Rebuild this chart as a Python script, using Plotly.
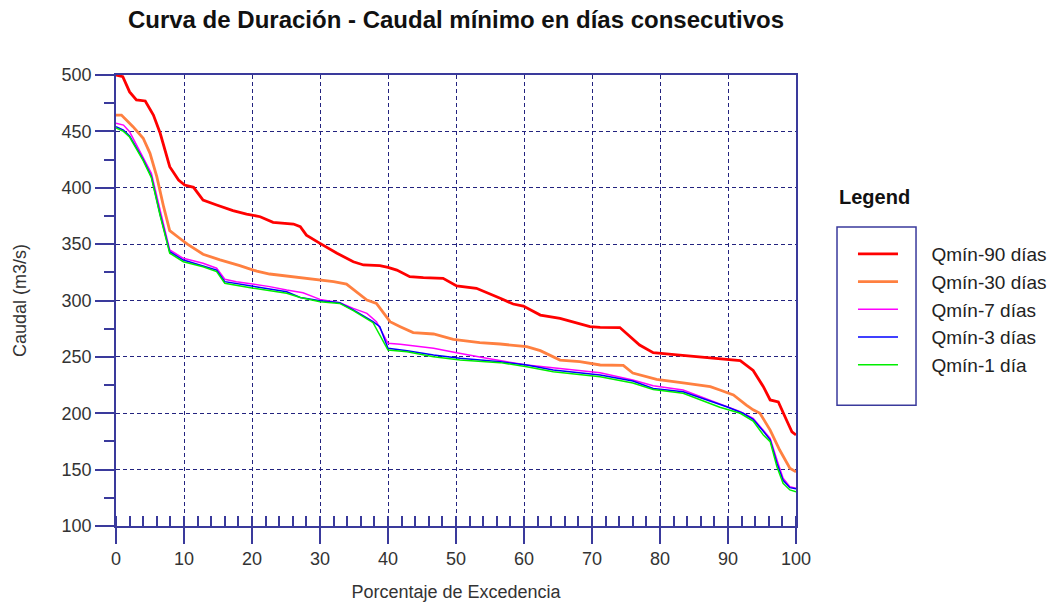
import plotly.graph_objects as go

# ---- data ----
x_q90 = [0, 1, 2, 3, 4.3, 5.5, 6.5, 7.9, 9.2, 10.1, 11.4, 12.8, 14.8, 17.2, 19.2, 21.2, 23.1, 26.1, 27.1, 28,
         30, 32.5, 34.9, 36.4, 38.8, 40, 41.3, 43.2, 45.2, 48.1, 50.1, 53, 56.5, 58.4, 59.9, 62.4, 65.3, 67.7,
         69.7, 71.2, 74.1, 77, 79, 82.5, 87.4, 91.8, 93.7, 95.2, 96.2, 97.4, 98.6, 99.4, 100]
q90 = [500, 498.5, 485, 478, 477, 464.5, 448.3, 418.7, 406.9, 402.4, 400.4, 389, 384.7, 379.7, 376.7, 374.3,
       369.3, 367.8, 365.5, 358, 350.7, 341.9, 334.4, 331.5, 330.9, 329.4, 327, 321.1, 320.2, 319.6, 312.9,
       310.8, 302, 296.9, 295.1, 287.1, 284.2, 279.8, 276.8, 276.2, 276, 260.5, 253.7, 251.7, 249, 246.6, 238,
       223.6, 211.8, 210, 194, 183.6, 180.7]

x_q30 = [0, 0.8, 2.5, 4, 5, 6, 7, 7.9, 9.4, 10.5, 12.8, 15.3, 18.2, 20.7, 22.6, 26.6, 29.5, 32, 33.9, 35.4,
         36.9, 38.3, 40.3, 41.8, 43.7, 46.7, 49.6, 53.5, 56.5, 60.4, 62.4, 65.3, 68.2, 71.2, 74.6, 76, 79.5,
         83.4, 87.4, 88.8, 90.8, 92.7, 93.7, 94.7, 96.2, 97.6, 99.1, 100]
q30 = [464.5, 464.5, 454.2, 443.9, 430.5, 409.8, 383.2, 362, 355, 350, 341, 336, 331, 326, 323.5, 320.6, 318.2,
       316.7, 314.6, 307.8, 300.4, 297.5, 281.2, 276.8, 271.5, 270.3, 265.6, 262.6, 261.4, 259, 255.5, 247.2,
       245.7, 242.8, 242.5, 235.7, 230, 227, 223.6, 220.6, 216.2, 207.3, 203, 200, 185.1, 167.4, 151.2, 148]

x_q7 = [0, 1.1, 2, 4, 5.2, 6.5, 7.9, 9.9, 12.8, 14.8, 16, 17.7, 20.2, 22.6, 25.1, 27.5, 30, 32.9, 34.9, 36.9,
        38.3, 40, 41.8, 46.7, 50.1, 54.5, 60.4, 65.3, 71.2, 76, 79, 83.4, 88.8, 91.8, 93.7, 95.2, 96.2, 97.2,
        98.1, 99.1, 100]
q7 = [457.2, 455.6, 449.7, 427.5, 412.8, 380, 344.8, 337.4, 333, 328.6, 318.8, 316.7, 314.6, 312.3, 309.3,
      306.9, 301, 298, 293, 288.6, 281.2, 262, 261.1, 257.6, 253.7, 248.7, 242.8, 239.9, 236, 229.5, 224.4,
      220.6, 208.2, 201.4, 195.5, 185.1, 177.7, 158.5, 142.3, 134.9, 133.4]

x_q3 = [0, 1.1, 2, 4, 5.2, 6.5, 7.9, 9.9, 12.8, 14.8, 16, 20.2, 25.1, 27.1, 30, 32.9, 34.9, 37.8, 38.8, 40,
        42.8, 46.7, 50.6, 56.5, 60.4, 64.3, 71.2, 76, 79, 83.4, 89.8, 92.2, 93.7, 95.2, 96.2, 97.2, 98.1,
        99.1, 100]
q3 = [454.2, 451.2, 446, 425, 410, 376, 343.3, 335.9, 330.6, 327, 316.7, 312.3, 307.8, 302.7, 299.8, 298,
      291.6, 281.2, 276.8, 257.6, 255.5, 251.7, 248.7, 245.7, 242.8, 238.4, 234, 228.6, 222, 219, 205.8, 200,
      194.5, 184, 176.5, 155.6, 140.5, 134, 133]

x_q1 = [0, 1.1, 2, 4, 5.2, 6.5, 7.9, 9.9, 12.8, 14.8, 16, 20.2, 25.1, 27.1, 30, 32.9, 34.9, 37.8, 40, 42.8,
        46.7, 50.6, 56.5, 60.4, 64.3, 71.2, 76, 79, 83.4, 88.8, 91.8, 93.7, 95.2, 96.2, 97.2, 98.1, 99.1, 100]
q1 = [453, 450, 445, 424, 409, 375, 342, 334.4, 330, 325.6, 315.3, 310.9, 306.5, 302.7, 298.9, 297.4, 291,
      280.3, 256.1, 254.6, 250.2, 247.3, 244.9, 241.3, 236.9, 232.4, 226.8, 221, 217.7, 205.3, 200, 193,
      180.7, 174.8, 152.6, 137.9, 132, 130.4]

series_names = ["Qmín-90 días", "Qmín-30 días", "Qmín-7 días", "Qmín-3 días", "Qmín-1 día"]
series_x = [x_q90, x_q30, x_q7, x_q3, x_q1]
series_y = [q90, q30, q7, q3, q1]
series_colors = ["#ff0000", "#ff8040", "#ff00ff", "#0000ff", "#00ee00"]
series_widths = [2.8, 2.8, 1.5, 1.5, 1.5]

title_text = "Curva de Duración - Caudal mínimo en días consecutivos"
x_title = "Porcentaje de Excedencia"
y_title = "Caudal (m3/s)"
legend_heading = "Legend"

AX = "#3a3a9c"
GRID = "#23237f"
FONT = "Liberation Sans, Arial, sans-serif"
PAD = "\u2002\u2002\u2002"  # visual gap between legend line and label

fig = go.Figure()
for nm, xs, ys, c, w in zip(series_names, series_x, series_y, series_colors, series_widths):
    fig.add_trace(go.Scatter(x=xs, y=ys, mode="lines", name=PAD + nm,
                             line=dict(color=c, width=w)))

fig.update_layout(
    width=1052, height=602, autosize=False,
    paper_bgcolor="white", plot_bgcolor="white",
    margin=dict(l=116, r=256, t=75, b=76, autoexpand=False),
    font=dict(family=FONT, size=18, color="#333333"),
    title=dict(text="<b>" + title_text + "</b>", x=0.5, xref="paper", y=0.967, yref="container",
               yanchor="middle", font=dict(size=24, color="#111111")),
    showlegend=True,
    legend=dict(x=1.0838, xanchor="left", y=0.645, yanchor="top", bgcolor="rgba(0,0,0,0)",
                borderwidth=0, font=dict(size=19, color="#222222"), itemwidth=40,
                tracegroupgap=0),
    xaxis=dict(range=[0, 100], dtick=10, showline=True, linecolor=AX, linewidth=1.5, mirror=True,
               automargin=False,
               ticks="outside", ticklen=16, tickwidth=1.5, tickcolor=AX,
               showgrid=True, gridcolor=GRID, griddash="4px,3px", gridwidth=1,
               zeroline=False,
               minor=dict(dtick=2, ticks="inside", ticklen=10, tickwidth=1.5, tickcolor=AX, showgrid=False),
               title=dict(text=x_title, font=dict(size=18, color="#333333"), standoff=18),
               tickfont=dict(size=18, color="#333333")),
    yaxis=dict(range=[100, 500], dtick=50, showline=True, linecolor=AX, linewidth=1.5, mirror=True,
               automargin=False,
               ticks="outside", ticklen=19, tickwidth=1.5, tickcolor=AX,
               showgrid=True, gridcolor=GRID, griddash="4px,3px", gridwidth=1,
               zeroline=False,
               minor=dict(dtick=25, ticks="outside", ticklen=10, tickwidth=1.5, tickcolor=AX, showgrid=False),
               title=dict(text=y_title, font=dict(size=18, color="#333333"), standoff=30),
               tickfont=dict(size=18, color="#333333")),
)

# legend frame and heading
fig.add_shape(type="rect", xref="paper", yref="paper", x0=1.0603, x1=1.1765, y0=0.268, y1=0.663,
              line=dict(color=AX, width=1.5), fillcolor="rgba(0,0,0,0)")
fig.add_annotation(text="<b>" + legend_heading + "</b>", xref="paper", yref="paper", x=1.0603, y=0.7295,
                   xanchor="left", yanchor="middle", showarrow=False,
                   font=dict(size=20, color="#111111", family=FONT))

fig.write_html("out.html", config={"responsive": False, "displayModeBar": False},
               post_script="document.body.style.margin='0';document.body.style.overflow='hidden';")
